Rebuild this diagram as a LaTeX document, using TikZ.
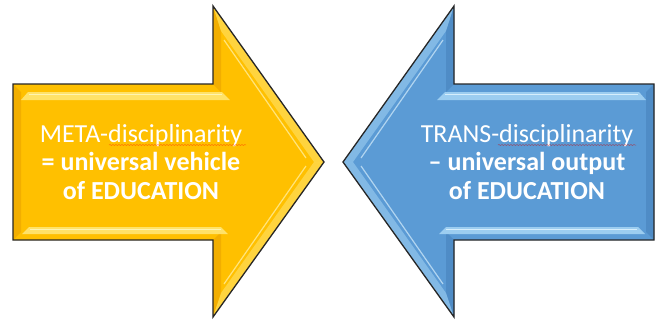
\documentclass[tikz,border=0pt]{standalone}
\usepackage{fontspec}
\setmainfont{Carlito}
\usetikzlibrary{decorations.pathmorphing}
\definecolor{gold}{HTML}{FFC000}
\definecolor{goldlight}{HTML}{FFE268}
\definecolor{goldhi}{HTML}{FFF4B0}
\definecolor{golddark}{HTML}{F2AE00}
\definecolor{sky}{HTML}{5B9BD5}
\definecolor{skylight}{HTML}{9CCDF0}
\definecolor{skyhi}{HTML}{D6EEFC}
\definecolor{skydark}{HTML}{4F8CC6}
% Beveled block arrow pointing right; #1 base, #2 light bevel, #3 highlight, #4 dark bevel
\newcommand\bevelarrow[4]{%
  \fill[#1] (13,84) -- (213,84) -- (213,6) -- (324,162) -- (213,317) -- (213,240) -- (13,240) -- cycle;
  % dark bevel on the back edges
  \fill[#4] (13,84) -- (21,92) -- (21,232) -- (13,240) -- cycle;
  \fill[#4] (213,6) -- (221,31) -- (221,92) -- (213,84) -- cycle;
  \fill[#4] (213,317) -- (221,293) -- (221,232) -- (213,240) -- cycle;
  % light bevel along the head edges
  \fill[#2, opacity=0.6] (213,6) -- (324,162) -- (314,162) -- (221,31) -- cycle;
  \fill[#2, opacity=0.6] (213,317) -- (324,162) -- (314,162) -- (221,293) -- cycle;
  \draw[#3, line width=1.2, opacity=0.7] (224,40) -- (306,158);
  \draw[#3, line width=1.2, opacity=0.7] (224,284) -- (306,166);
  % shaft bands
  \fill[#2] (21,100) -- (28,92) -- (222,92) -- (230,100) -- cycle;
  \draw[#3, line width=1.6] (29,94.5) -- (222,94.5);
  \fill[#2] (22,234) -- (29,227) -- (221,227) -- (228,234) -- cycle;
  \draw[#3, line width=1.6] (30,229.5) -- (221,229.5);
  % outline
  \draw[black!85, line width=1.3, line join=miter]
    (13,84) -- (213,84) -- (213,6) -- (324,162) -- (213,317) -- (213,240) -- (13,240) -- cycle;
}
\begin{document}
\begin{tikzpicture}[x=1pt, y=-1pt,
  label/.style={text=white, align=center, font=\fontsize{26}{28.5}\selectfont, inner sep=0pt},
  squiggle/.style={line width=0.5, opacity=0.5,
    decorate, decoration={snake, amplitude=0.5, segment length=3}}]
  \useasboundingbox (0,0) rectangle (655,322);
  \fill[white] (0,0) rectangle (655,322);
  % left arrow
  \bevelarrow{gold}{goldlight}{goldhi}{golddark}
  % right arrow, mirrored
  \begin{scope}[shift={(667,0)}, xscale=-1]
    \bevelarrow{sky}{skylight}{skyhi}{skydark}
  \end{scope}
  \node[label] (meta) at (141,162) {META-disciplinarity\\ \textbf{= universal vehicle}\\ \textbf{of EDUCATION}};
  \node[label] (trans) at (527,162) {TRANS-disciplinarity\\ \textbf{– universal output}\\ \textbf{of EDUCATION}};
  % spelling marks under the long words
  \coordinate (m1) at (109,145);
  \coordinate (m2) at (246,145);
  \coordinate (t1) at (498,145);
  \coordinate (t2) at (636,145);
  \draw[squiggle, red!70!orange] (m1) -- (m2);
  \draw[squiggle, red!80!black] (t1) -- (t2);
\end{tikzpicture}
\end{document}
